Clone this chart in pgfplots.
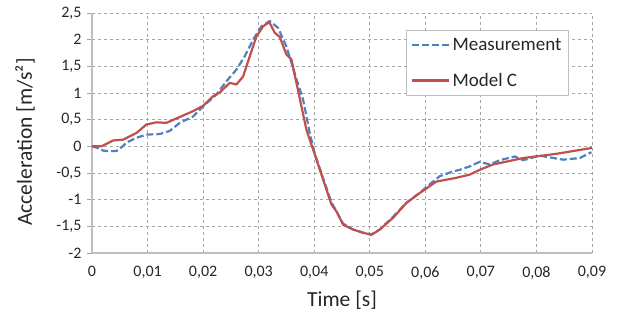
\documentclass[border=0pt]{standalone}
\usepackage{pgfplots}
\pgfplotsset{compat=1.18}
\usepackage{fontspec}
\setmainfont{Carlito}
\definecolor{meas}{RGB}{79,129,189}
\definecolor{modc}{RGB}{192,80,77}
\definecolor{gridc}{RGB}{165,165,165}
\definecolor{axc}{RGB}{190,190,190}
\begin{document}
\begin{tikzpicture}
\begin{axis}[
  scale only axis, width=500pt, height=240pt,
  xmin=0, xmax=0.09, ymin=-2, ymax=2.5,
  scaled x ticks=false, scaled y ticks=false,
  axis x line*=bottom, axis y line*=left,
  axis line style={axc, line width=1.3pt, -},
  xtick={0,0.01,0.02,0.03,0.04,0.05,0.06,0.07,0.08,0.09},
  xticklabels={0,{0,01},{0,02},{0,03},{0,04},{0,05},{0,06},{0,07},{0,08},{0,09}},
  ytick={-2,-1.5,-1,-0.5,0,0.5,1,1.5,2,2.5},
  yticklabels={{-2},{-1,5},{-1},{-0,5},0,{0,5},1,{1,5},2,{2,5}},
  grid=major,
  major grid style={gridc, dash pattern=on 3pt off 3pt, line width=0.8pt},
  tick align=outside,
  xtick style={draw=none},
  ytick style={gridc, line width=0.8pt},
  major tick length=5pt,
  ticklabel style={font=\fontsize{16}{18}\selectfont, text=black!85},
  xticklabel style={yshift=-5pt},
  yticklabel style={xshift=-2pt},
  xlabel={Time [s]},
  ylabel={Acceleration [m/s²]},
  every axis x label/.style={at={(axis description cs:0.5,-0.196)}, anchor=center, font=\fontsize{21.5}{24}\selectfont, text=black!85},
  every axis y label/.style={at={(axis description cs:-0.134,0.4625)}, anchor=center, rotate=90, font=\fontsize{21.5}{24}\selectfont, text=black!85},
  legend style={at={(axis description cs:0.628,0.929)}, anchor=north west,
    draw=axc, fill=white, line width=0.8pt,
    font=\fontsize{19}{21}\selectfont, text=black!85,
    inner xsep=5pt, inner ysep=6pt, row sep=17pt},
  legend cell align=left,
  legend image code/.code={\draw[#1] (0pt,0pt) -- (37pt,0pt);},
  clip=false,
]
\addplot[meas, line width=2.2pt, dash pattern=on 7pt off 3pt, line join=round] coordinates {
(0,0) (0.001,-0.03) (0.002,-0.08) (0.003,-0.09) (0.0044,-0.09) (0.0055,0.0)
(0.0062,0.07) (0.008,0.16) (0.0098,0.22) (0.0122,0.23) (0.014,0.29)
(0.0158,0.44) (0.0182,0.56) (0.020,0.75) (0.0224,0.97) (0.0242,1.22)
(0.026,1.44) (0.0275,1.69) (0.029,2.0) (0.0305,2.25) (0.032,2.35)
(0.0335,2.22) (0.035,1.87) (0.0368,1.26) (0.038,0.875) (0.0392,0.25)
(0.040,-0.10) (0.0416,-0.6) (0.0431,-1.05) (0.044,-1.22) (0.0452,-1.45)
(0.047,-1.56) (0.0488,-1.62) (0.0503,-1.65) (0.0518,-1.56) (0.0542,-1.32)
(0.0566,-1.06) (0.059,-0.87) (0.0614,-0.66) (0.0626,-0.56) (0.065,-0.47)
(0.0662,-0.44) (0.068,-0.375) (0.0698,-0.29) (0.0716,-0.34) (0.0734,-0.26)
(0.0761,-0.19) (0.0776,-0.26) (0.0806,-0.175) (0.0848,-0.25) (0.0878,-0.22)
(0.0899,-0.11)
};
\addlegendentry{Measurement}
\addplot[modc, line width=2.2pt, line join=round] coordinates {
(0,0) (0.0017,0) (0.0038,0.11) (0.0056,0.125) (0.008,0.25) (0.0098,0.41)
(0.0116,0.45) (0.0134,0.44) (0.0158,0.55) (0.0182,0.66) (0.020,0.76)
(0.0218,0.94) (0.023,1.01) (0.0248,1.19) (0.026,1.16) (0.0272,1.31)
(0.0284,1.69) (0.0296,2.06) (0.0308,2.25) (0.0319,2.33) (0.0329,2.13)
(0.0338,2.05) (0.035,1.72) (0.0359,1.63) (0.0368,1.19) (0.0377,0.75)
(0.0386,0.31) (0.0398,-0.06) (0.0416,-0.62) (0.0431,-1.09) (0.044,-1.22)
(0.0452,-1.47) (0.047,-1.56) (0.0488,-1.62) (0.0503,-1.66) (0.0518,-1.56)
(0.0542,-1.34) (0.0566,-1.06) (0.059,-0.875) (0.062,-0.66) (0.0656,-0.59)
(0.068,-0.53) (0.0698,-0.44) (0.0722,-0.34) (0.0776,-0.22) (0.0836,-0.14)
(0.090,-0.03)
};
\addlegendentry{Model C}
\end{axis}
\pgfresetboundingbox
\path[use as bounding box] (-92pt,-73pt) rectangle (527pt,253pt);
\end{tikzpicture}
\end{document}
